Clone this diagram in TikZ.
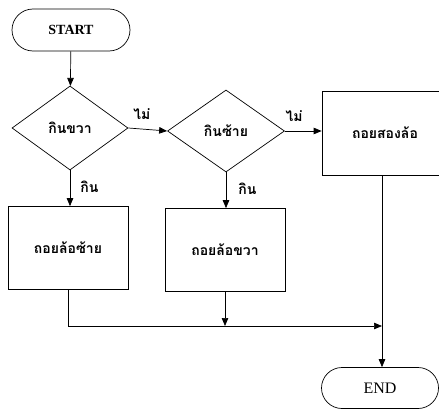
\documentclass[tikz,border=0pt]{standalone}
\usepackage{fontspec}
\setmainfont{Liberation Serif}
\newfontfamily\thai[Script=Thai]{Loma}
\usetikzlibrary{shapes.geometric,shapes.misc,arrows.meta}
\tikzset{
  base/.style={draw, line width=0.7pt, inner sep=0pt},
  term/.style={base, rounded rectangle, minimum width=118pt, minimum height=42pt, font=\bfseries\fontsize{14}{16}\selectfont},
  decis/.style={base, diamond, minimum width=116pt, minimum height=84pt, font=\thai\bfseries\fontsize{14}{16}\selectfont},
  proc/.style={base, rectangle, minimum width=120pt, minimum height=83pt, font=\thai\bfseries\fontsize{14}{16}\selectfont},
  lbl/.style={font=\thai\bfseries\fontsize{14}{16}\selectfont, inner sep=1pt},
  flow/.style={line width=0.7pt, -{Triangle[length=8pt,width=6.5pt]}},
  plain/.style={line width=0.7pt}
}
\begin{document}
\begin{tikzpicture}[x=1pt,y=-1pt]
\useasboundingbox (0,0) rectangle (439,412);
\clip (0,0) rectangle (439,412);
\node[term] (start) at (71,30) {START};
\node[decis] (d1) at (70,128) {กินขวา};
\node[decis, minimum width=117pt, minimum height=82pt] (d2) at (226,131) {กินซ้าย};
\node[proc] (b1) at (68,248) {ถอยล้อซ้าย};
\node[proc] (b2) at (225,250) {ถอยล้อขวา};
\node[proc, minimum width=124pt, minimum height=84pt, text width=110pt, align=center] (b3) at (384,133) {\hspace*{2pt}ถอยสองล้อ};
\node[term, font=\fontsize{16}{18}\selectfont, minimum width=117pt, minimum height=41pt] (end) at (380,388) {END};
\coordinate (b3s) at (382,175);
\coordinate (m) at (382,326);
\draw[flow] (start) -- (d1);
\draw[flow] (d1.east) -- node[lbl, above=8pt, pos=0.35] {ไม่} (d2.west);
\draw[flow] (d2.east) -- node[lbl, above=8pt, pos=0.25] {ไม่} (b3.west |- d2.east);
\draw[flow] (d1.south) -- node[lbl, right=9pt, pos=0.45] {กิน} (b1.north -| d1.south);
\draw[flow] (d2.south) -- node[lbl, right=11pt, pos=0.45] {กิน} (b2.north -| d2.south);
\draw[flow] (b1.south) |- (m);
\draw[flow] (b2.south) -- (b2.south |- m);
\draw[flow] (b3s) -- (end.north -| b3s);
\end{tikzpicture}
\end{document}
